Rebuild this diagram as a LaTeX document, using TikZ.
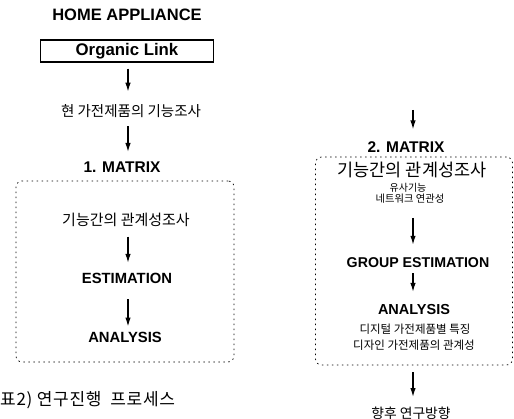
\documentclass[tikz,border=0pt]{standalone}
\usepackage{fontspec}
\setmainfont{Liberation Sans}
\newfontfamily\kr{Noto Sans CJK KR}
\usetikzlibrary{arrows.meta}

\begin{document}
\begin{tikzpicture}[
   head/.style={font=\fontsize{#1}{#1}\selectfont\bfseries, inner sep=0pt},
   kor/.style={font=\kr\fontsize{#1}{#1}\selectfont, inner sep=0pt},
   flow/.style={-{Latex[length=9pt,width=5.5pt]}, line width=1.3pt},
   frame/.style={draw, dash pattern=on 1.5pt off 3.5pt, line width=0.7pt, rounded corners=6pt, inner sep=0pt}
 ]
   \begin{scope}[x=1pt,y=-1pt]
   \useasboundingbox (0,0) rectangle (514,419);
   \coordinate (axisL) at (128,0);
   \coordinate (axisR) at (413,0);
   % left column
   \node[head=16.5] (home) at (127,15) {HOME APPLIANCE};
   \node[draw, line width=1.4pt, minimum width=173pt, minimum height=22pt, inner sep=0pt, head=16.8] (organic) at (127,51) {Organic Link};
   \node[kor=14.5] (survey) at (131,111) {현 가전제품의 기능조사};
   \node[head=15.5] (matrix1) at (122,167) {1. MATRIX};
   \node[frame, minimum width=218pt, minimum height=181pt] (box1) at (125,271.5) {};
   \node[kor=15] (rel1) at (126,220) {기능간의 관계성조사};
   \node[head=14.8] (est1) at (127,278) {ESTIMATION};
   \node[head=14.8] (ana1) at (125,337) {ANALYSIS};
   \node[kor=17, anchor=west] (caption) at (0,400) {\addfontfeature{LetterSpace=4}표2) 연구진행\ \ 프로세스};
   \draw[flow, shorten <=6pt, shorten >=12.5pt] (organic.south -| axisL) -- (survey.north -| axisL);
   \draw[flow, shorten <=8.5pt, shorten >=9.5pt] (survey.south -| axisL) -- (matrix1.north -| axisL);
   \draw[flow, shorten <=9.7pt, shorten >=9.7pt] (rel1.south -| axisL) -- (est1.north -| axisL);
   \draw[flow, shorten <=16pt, shorten >=5pt] (est1.south -| axisL) -- (ana1.north -| axisL);
   % right column
   \coordinate (top2) at (413,110);
   \node[head=15.5] (matrix2) at (406,147) {2. MATRIX};
   \node[frame, minimum width=197pt, minimum height=208pt] (box2) at (414,261) {};
   \node[kor=17.5] (rel2) at (412,170) {기능간의 관계성조사};
   \node[kor=10] (sim) at (408,188) {유사기능};
   \node[kor=10.3] (net) at (410,199) {네트워크 연관성};
   \node[head=14.2] (gest) at (418,263) {GROUP ESTIMATION};
   \node[head=14.5] (ana2) at (414,310) {ANALYSIS};
   \node[kor=11.5] (digi) at (415,329) {디지털 가전제품별 특징};
   \node[kor=11.5] (desi) at (414,345) {디자인 가전제품의 관계성};
   \node[kor=13.8] (future) at (411,413) {향후 연구방향};
   \draw[flow, shorten >=12pt] (top2) -- (top2 |- matrix2.north);
   \draw[flow, shorten <=14pt, shorten >=13pt] (net.south -| axisR) -- (gest.north -| axisR);
   \draw[flow, shorten <=5pt, shorten >=12.8pt] (gest.south -| axisR) -- (ana2.north -| axisR);
   \draw[flow, shorten <=7pt, shorten >=9.5pt] (box2.south -| axisR) -- (future.north -| axisR);
   \end{scope}
 \end{tikzpicture}
\end{document}
